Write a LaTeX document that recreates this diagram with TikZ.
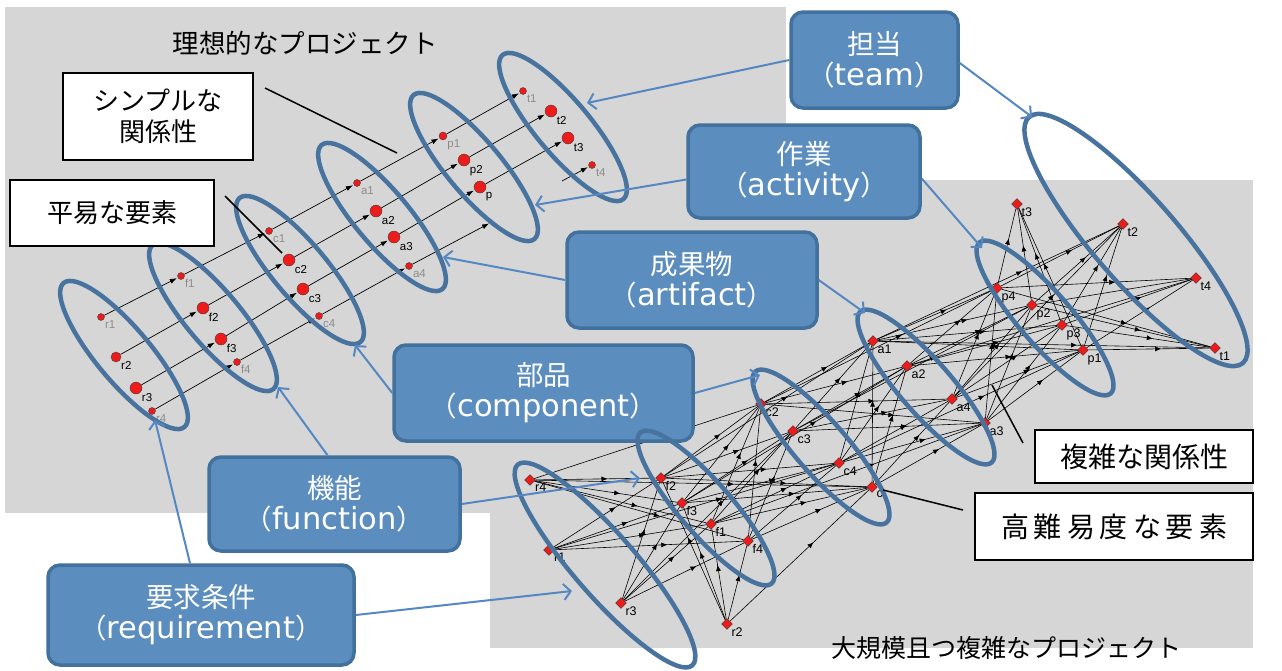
\documentclass[tikz,border=0pt]{standalone}
\usepackage{fontspec}
\setmainfont{Noto Sans CJK JP}
\newfontfamily\lblfont{Liberation Sans}
\newfontfamily\latfont{DejaVu Sans}
\newcommand\boxlat[1]{{\latfont\fontsize{30.5}{30}\selectfont #1}}
\usetikzlibrary{shapes.geometric,arrows.meta,decorations.markings}
\definecolor{bgrey}{HTML}{D6D6D6}
\definecolor{boxfill}{HTML}{5B8DBE}
\definecolor{boxline}{HTML}{41719C}
\definecolor{ellc}{HTML}{48739E}
\definecolor{arrc}{HTML}{5588C2}
\definecolor{nodered}{HTML}{EE1B1B}
\pgfdeclarelayer{bg}
\pgfsetlayers{bg,main}
\begin{document}
\begin{tikzpicture}[x=1pt,y=-1pt,
  lsm/.style={circle,fill=nodered,draw=black!75,line width=0.4pt,inner sep=0pt,minimum size=7pt},
  lbg/.style={lsm,minimum size=12pt},
  llg/.style={font=\lblfont\fontsize{11.5}{12}\selectfont,text=black!45,inner sep=1pt},
  llb/.style={llg,text=black},
  rnd/.style={diamond,fill=nodered,draw=black!80,line width=0.4pt,inner sep=0pt,minimum size=11pt},
  rl/.style={font=\lblfont\fontsize{12.5}{13}\selectfont,inner sep=1pt},
  rowedge/.style={line width=0.7pt,-{Latex[length=7pt,width=5pt]},shorten >=1pt},
  redge/.style={line width=0.6pt,postaction={decorate},decoration={markings,mark=at position 0.6 with {\arrow{Latex[length=6pt,width=5pt]}}}},
  ell/.style={draw=ellc,line width=4.5pt},
  bbox/.style={rounded corners=12pt,fill=boxfill,draw=boxline,line width=3.5pt,text=white,align=center,font=\fontsize{27.5}{31}\selectfont,inner sep=0pt},
  wbox/.style={draw=black,line width=1.5pt,fill=white,align=center,inner sep=0pt},
  barr/.style={draw=arrc,line width=2pt,-{Straight Barb[length=7pt,width=16pt,line width=2pt]}},
  ptr/.style={draw=black,line width=1.5pt}
]
\useasboundingbox (0,0) rectangle (1282,670);
\begin{pgfonlayer}{bg}
\fill[white] (0,0) rectangle (1282,670);
\fill[bgrey] (5,7) rectangle (786,513);
\fill[bgrey] (490,180) rectangle (1253,648);
\end{pgfonlayer}

% titles
\node[font=\fontsize{26.5}{30}\selectfont] (title1) at (305,43) {理想的なプロジェクト};
\node[font=\fontsize{25}{28}\selectfont] (title2) at (1006,648) {大規模且つ複雑なプロジェクト};

% blue boxes
\node[bbox,minimum width=167pt,minimum height=96pt] (team) at (874.5,60) {担当\\（\boxlat{team}）};
\node[bbox,minimum width=232pt,minimum height=93pt] (act) at (804,171.5) {作業\\（\boxlat{activity}）};
\node[bbox,minimum width=250pt,minimum height=96pt] (art) at (692,280) {成果物\\（\boxlat{artifact}）};
\node[bbox,minimum width=299pt,minimum height=96pt] (comp) at (543.5,393) {部品\\（\boxlat{component}）};
\node[bbox,minimum width=251pt,minimum height=94pt] (func) at (334.5,504) {機能\\（\boxlat{function}）};
\node[bbox,minimum width=306pt,minimum height=100pt] (req) at (201,615) {要求条件\\（\boxlat{requirement}）};

% left network nodes
\node[lsm,label={[llg]-40:r1}] (Lr1) at (101,317) {};
\node[lbg,minimum size=10pt,label={[llb]-40:r2}] (Lr2) at (116,357) {};
\node[lbg,label={[llb]-40:r3}] (Lr3) at (136,388) {};
\node[lsm,label={[llg]-40:r4}] (Lr4) at (152,411) {};
\node[lsm,label={[llg]-40:f1}] (Lf1) at (181,276) {};
\node[lbg,label={[llb]-40:f2}] (Lf2) at (203,308) {};
\node[lbg,label={[llb]-40:f3}] (Lf3) at (221,339) {};
\node[lsm,label={[llg]-40:f4}] (Lf4) at (237,362) {};
\node[lsm,label={[llg]-40:c1}] (Lc1) at (269,231) {};
\node[lbg,label={[llb]-40:c2}] (Lc2) at (289,260) {};
\node[lbg,label={[llb]-40:c3}] (Lc3) at (303,289) {};
\node[lsm,label={[llg]-40:c4}] (Lc4) at (319,316) {};
\node[lsm,label={[llg]-40:a1}] (La1) at (357,183) {};
\node[lbg,label={[llb]-40:a2}] (La2) at (376,211) {};
\node[lbg,label={[llb]-40:a3}] (La3) at (394,237) {};
\node[lsm,label={[llg]-40:a4}] (La4) at (409,266) {};
\node[lsm,minimum size=8pt,label={[llg]-40:p1}] (Lp1) at (443,136) {};
\node[lbg,label={[llb]-40:p2}] (Lp2) at (464,160) {};
\node[lbg,label={[llb]-40:p}] (Lp3) at (480,187) {};
\node[lsm,label={[llg]-40:t1}] (Lt1) at (523,91) {};
\node[lbg,label={[llb]-40:t2}] (Lt2) at (551,111) {};
\node[lbg,label={[llb]-40:t3}] (Lt3) at (568,138) {};
\node[lsm,label={[llg]-40:t4}] (Lt4) at (592,165) {};
\coordinate (gapA) at (490,223);
\coordinate (gapB) at (562,181);

% right network nodes
\node[rnd,label={[rl]-25:r1}] (Rr1) at (549,550) {};
\node[rnd,label={[rl]-35:r2}] (Rr2) at (727,624) {};
\node[rnd,label={[rl]-35:r3}] (Rr3) at (621,603) {};
\node[rnd,label={[rl]-25:r4}] (Rr4) at (530,480) {};
\node[rnd,label={[rl]-35:f1}] (Rf1) at (711,524) {};
\node[rnd,label={[rl]-35:f2}] (Rf2) at (661,478) {};
\node[rnd,label={[rl]-35:f3}] (Rf3) at (682,503) {};
\node[rnd,label={[rl]-35:f4}] (Rf4) at (748,541) {};
\node[rnd,label={[rl]-35:c}] (Rc1) at (872,487) {};
\node[rnd,label={[rl]-35:c2}] (Rc2) at (761,404) {};
\node[rnd,label={[rl]-35:c3}] (Rc3) at (793,431) {};
\node[rnd,label={[rl]-35:c4}] (Rc4) at (839,463) {};
\node[rnd,label={[rl]-35:a1}] (Ra1) at (873,341) {};
\node[rnd,label={[rl]-35:a2}] (Ra2) at (907,366) {};
\node[rnd,label={[rl]-35:a3}] (Ra3) at (985,423) {};
\node[rnd,label={[rl]-35:a4}] (Ra4) at (952,399) {};
\node[rnd,label={[rl]-35:p1}] (Rp1) at (1083,350) {};
\node[rnd,label={[rl]-35:p2}] (Rp2) at (1032,305) {};
\node[rnd,label={[rl]-35:p3}] (Rp3) at (1062,325) {};
\node[rnd,label={[rl]-35:p4}] (Rp4) at (997,288) {};
\node[rnd,label={[rl]-35:t1}] (Rt1) at (1215,348) {};
\node[rnd,label={[rl]-35:t2}] (Rt2) at (1123,224) {};
\node[rnd,label={[rl]-35:t3}] (Rt3) at (1017,204) {};
\node[rnd,label={[rl]-35:t4}] (Rt4) at (1196,278) {};

% edges (below nodes)
\begin{pgfonlayer}{bg}
\foreach \i in {1,2,3}{
  \foreach \u/\v in {r/f,f/c,c/a,a/p,p/t}{\draw[rowedge] (L\u\i) -- (L\v\i);}
}
\foreach \u/\v in {r/f,f/c,c/a}{\draw[rowedge] (L\u4) -- (L\v4);}
\draw[rowedge] (La4) -- (gapA);
\draw[rowedge] (gapB) -- (Lt4);
\foreach \A/\B in {r/f,f/c,c/a,a/p,p/t}{
  \foreach \u in {1,2,3,4}{
    \foreach \v in {1,2,3,4}{\draw[redge] (R\A\u) -- (R\B\v);}
  }
}
\foreach \u/\v in {r4/c2,r4/c1,r1/c4,r3/c3,r2/c1,f2/a1,f1/a3,f3/a2,c2/p4,c4/p1,c3/p2,a1/t1,a2/t4,a4/t2,a1/t2}{\draw[redge] (R\u) -- (R\v);}
\end{pgfonlayer}

% ellipses left
\foreach \cx/\cy in {124/355,213/317,300/270,382/217,474/167,563/127}{
  \draw[ell,rotate around={-50:(\cx,\cy)}] (\cx,\cy) ellipse [x radius=94pt,y radius=27pt];
}
% ellipses right
\draw[ell,rotate around={-49:(605,565)}] (605,565) ellipse [x radius=133pt,y radius=31pt];
\foreach \cx/\cy in {706/508,821/447,926/387,1045/318}{
  \draw[ell,rotate around={-49:(\cx,\cy)}] (\cx,\cy) ellipse [x radius=100pt,y radius=26pt];
}
\draw[ell,rotate around={-49:(1136,240)}] (1136,240) ellipse [x radius=163pt,y radius=42pt];

% blue arrows
\coordinate (tT1) at (587,103);
\coordinate (tT2) at (1032,117);
\coordinate (tA1) at (535,205);
\coordinate (tA2) at (982,248);
\coordinate (tR1) at (443,257);
\coordinate (tR2) at (865,313);
\coordinate (tC1) at (355,345);
\coordinate (tC2) at (760,375);
\coordinate (tF1) at (278,387);
\coordinate (tF2) at (640,478);
\coordinate (tQ1) at (155,420);
\coordinate (tQ2) at (572,591);
\draw[barr] (team.west) -- (tT1);
\draw[barr] ([yshift=-3pt]team.east) -- (tT2);
\draw[barr] ([yshift=-8pt]act.west) -- (tA1);
\draw[barr] ([yshift=-7pt]act.east) -- (tA2);
\draw[barr] (art.west) -- (tR1);
\draw[barr] (art.east) -- (tR2);
\draw[barr] (comp.west) -- (tC1);
\draw[barr] (comp.east) -- (tC2);
\draw[barr] ([xshift=-7pt]func.north) -- (tF1);
\draw[barr] (func.east) -- (tF2);
\draw[barr] ([xshift=-11pt]req.north) -- (tQ1);
\draw[barr] (req.east) -- (tQ2);

% white boxes and pointers
\node[wbox,minimum width=190pt,minimum height=87pt,font=\fontsize{26}{31}\selectfont] (simple) at (158,116.5) {シンプルな\\関係性};
\node[wbox,minimum width=204pt,minimum height=66pt,font=\fontsize{26}{31}\selectfont] (easy) at (112,213) {平易な要素};
\node[wbox,minimum width=218pt,minimum height=53pt,font=\fontsize{28}{30}\selectfont] (cplx) at (1144,456.5) {複雑な関係性};
\node[wbox,minimum width=278pt,minimum height=67pt,font=\fontsize{28}{30}\selectfont] (hard) at (1114,526.5) {高\hspace{5pt}難\hspace{5pt}易\hspace{5pt}度\hspace{5pt}な\hspace{5pt}要\hspace{5pt}素};
\coordinate (p1a) at (265,88);  \coordinate (p1b) at (397,153);
\coordinate (p2a) at (225,196); \coordinate (p2b) at (282,253);
\coordinate (p3a) at (1023,443); \coordinate (p3b) at (992,385);
\coordinate (p4a) at (963,510); \coordinate (p4b) at (883,490);
\draw[ptr] (p1a) -- (p1b);
\draw[ptr] (p2a) -- (p2b);
\draw[ptr] (p3a) -- (p3b);
\draw[ptr] (p4a) -- (p4b);
\end{tikzpicture}
\end{document}
